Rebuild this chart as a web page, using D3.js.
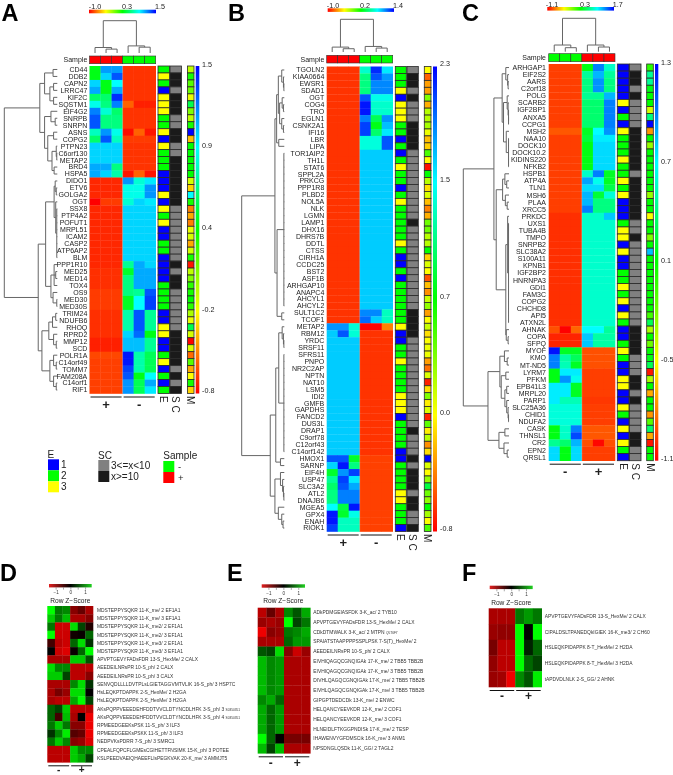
<!DOCTYPE html>
<html>
<head>
<meta charset="utf-8">
<style>
  html, body { margin: 0; padding: 0; background: #fff; }
  svg { display: block; font-family: "Liberation Sans", Arial, sans-serif; filter: blur(0.35px); }
</style>
<script src="https://cdn.jsdelivr.net/npm/d3@7"></script>
</head>
<body>
<svg id="fig" width="673" height="775"></svg>
<script>
/* global d3 */
var rainbow = ["#ff0000", "#ffff00", "#00ff00", "#00ffff", "#0000ff"];

// ---- panel A
var genesA = ["CD44","DDB2","CAPN2","LRRC47","KIF2C","SQSTM1","EIF4G2","SNRPB","SNRPN","ASNS","COPG2","PTPN23","C6orf130","METAP2","BRD4","HSPA5","DIDO1","ETV6","GOLGA2","OGT","SSX8","PTP4A2","POFUT1","MRPL51","ICAM2","CASP2","ATP6AP2","BLM","PPP1R10","MED25","MED14","TOX4","OS9","MED30","MED30S","TRIM24","NDUFB6","RHOQ","RPRD2","MMP12","SCD","POLR1A","C14orf49","TOMM7","FAM208A","C14orf1","RIF1"];
var sampleA = ["+","+","+","-","-","-"];
var groupsA = ["+","-"];
var scaleTicksA = [-1.0, 0.3, 1.5];
var mTicksA = [1.5, 0.9, 0.4, -0.2, -0.8];
var rowA = [-.9,-.9,-.9,1,1,1];
var valuesA = [
  [.35,1.13,1.13,-.87,-.87,-.87],[.35,1,1.3,-.87,-.87,-.87],[1,.35,.9,-.87,-.87,-.87],[1.1,.35,1.1,-.87,-.87,-.87],
  [.55,.55,1.4,-.87,-.87,-.87],[.85,.6,1.2,-.75,-.92,-.92],[1.2,.8,.55,-.87,-.87,-.87],[1.3,.6,.6,-.87,-.87,-.87],
  [1.3,.6,.6,-.87,-.87,-.87],[.75,1.15,.85,-.97,-.75,-.95],[.55,1.3,.75,-.85,-.85,-.85],[1,1,1,-.87,-.87,-.87],
  [1,1,1,-.87,-.87,-.87],[1,1,1,-.87,-.87,-.87],[1.1,1.1,.6,-.87,-.87,-.87],[1.1,1,.7,-.95,-.75,-.95],
  [-.9,-.9,-.9,1.15,.8,.95],[-.9,-.9,-.9,.85,.85,1.15],[-.9,-.9,-.9,.85,.85,1.15],[-1,-.85,-.85,.8,1,.95],
  rowA,rowA,rowA,rowA,rowA,rowA,rowA,rowA,
  [-.9,-.9,-.9,.65,1.1,1],[-.88,-.88,-.88,.4,1.1,1.1],[-.88,-.88,-.88,.6,1.1,1.1],[-.88,-.88,-.88,.6,1.1,1.1],
  [-.85,-.85,-.85,.6,.65,1.3],[-.85,-.85,-.85,.38,.9,1.35],[-.85,-.85,-.85,.38,.9,1.35],[-.88,-.88,-.88,.7,1.3,.65],
  [-.88,-.88,-.88,.7,1.3,.65],[-.88,-.88,-.88,.7,1.3,.65],[-.88,-.88,-.88,1,1.25,.35],[-.92,-.92,-.92,1.05,1.05,.65],
  [-.92,-.92,-.92,1.05,1.05,.65],[-.82,-.82,-.82,1.45,.7,.5],[-.84,-.84,-.84,1.45,.7,.5],[-.84,-.84,-.84,1.35,.7,.5],
  [-.84,-.84,-.84,1.3,.35,.9],[-.84,-.84,-.84,1.15,.5,1.1],[-.84,-.84,-.84,1.15,.5,.95]
];
var evidenceA = [2,3,2,1,3,3,3,2,2,3,1,3,2,2,2,1,1,1,3,1,3,2,3,1,1,2,2,1,1,1,1,2,2,2,2,1,1,3,3,1,1,2,3,1,2,1,2];
var spectralA = [1,2,2,1,2,2,2,1,1,2,2,1,1,2,2,2,2,2,2,2,1,1,1,1,1,1,1,1,2,1,2,2,1,1,1,1,1,1,2,2,2,2,2,1,2,1,2];
var modA = [-.05,.35,.2,.15,-.15,.55,.1,-.05,.35,1.5,-.35,.4,.4,.4,.4,.4,-.1,-.3,.9,.35,-.5,-.4,-.5,-.15,-.1,-.4,-.1,.35,-.75,-.05,.1,.3,.35,.4,.3,0,-.15,.55,-.1,-.8,-.1,-.55,.2,-.4,-.2,.35,-.3];
var colTreeA = [100,[17,0,[12,1,2]],[22,3,[18,4,5]]];
var rowTreeA = [100,
  [33,[24,[8,0,1],[14,[7,2,3],[7,4,5]]],[24,[12,6,[4,7,8]],[18,[7,9,10],[10,[2,11,[1,12,13]],[6,14,15]]]]],
  [36,[22,[6,[4,16,[2,17,18]],[3,19,[1,20,21,22,23,24,25,26,27]]],[12,[6,28,[3,29,30],31],[8,32,[1,33,34]]]],
      [29,[16,[9,[3,35,36],37],[7,38,[2,39,40]]],[14,[7,41,[2,42,43]],[7,44,[2,45,46]]]]]
];

// ---- panel B
var genesB = ["TGOLN2","KIAA0664","EWSR1","SDAD1","OGT","COG4","TRO","EGLN1","CSNK2A1","IFI16","LBR","LIPA","TOR1AIP2","TH1L","STAT6","SPPL2A","PRKCG","PPP1R8","PLBD2","NOL5A","NLK","LGMN","LAMP1","DHX16","DHRS7B","DDTL","CTSS","CIRH1A","CCDC25","BST2","ASF1B","ARHGAP10","ANAPC4","AHCYL1","AHCYL2","SULT1C2","TCOF1","METAP2","RBM12","YRDC","SRSF11","SFRS11","PNPO","NR2C2AP","NPTN","NAT10","LSM5","IDI2","GMFB","GAPDHS","FANCD2","DUS3L","DRAP1","C9orf78","C12orf43","C14orf142","HMOX1","SARNP","EIF4H","USP47","SLC3A2","ATL2","DNAJB6","MGEA5","GPX4","ENAH","RIOK1"];
var sampleB = ["+","+","+","-","-","-"];
var groupsB = ["+","-"];
var scaleTicksB = [-1.0, 0.2, 1.4];
var mTicksB = [2.3, 1.5, 0.7, 0.0, -0.8];
var upB = [-.88,-.88,-.88,.92,.92,.92];
var downB = [.92,.92,.92,-.88,-.88,-.88];
var valuesB = [
  [-.88,-.88,-.88,.68,1.3,.85],[-.88,-.88,-.88,.5,1.2,1.04],[-.88,-.88,-.88,.5,1.08,1.08],[-.88,-.88,-.88,.5,1.08,1.08],
  [-.88,-.88,-.88,1.2,.75,.75],[-.88,-.88,-.88,1.35,.68,.68],[-.88,-.88,-.88,1.35,.68,.68],[-.88,-.88,-.88,1.1,.4,1.05],
  [-.88,-.88,-.88,1.25,.25,.95],[-.88,-.88,-.88,1.25,.45,.85],[-.88,-.88,-.88,.72,.72,1.2],[-.88,-.88,-.88,.72,.72,1.2],
  upB,upB,upB,upB,upB,upB,upB,upB,upB,upB,upB,upB,upB,upB,upB,upB,upB,upB,upB,upB,upB,upB,upB,
  [-.88,-.88,-.88,1.08,1.08,.65],[-.88,-.88,-.88,1.15,.92,.65],
  [1.05,1.05,.7,-1,-1,-.7],[.92,1.2,.7,-.88,-.88,-.88],
  downB,downB,downB,downB,downB,downB,downB,downB,downB,downB,downB,downB,downB,downB,downB,downB,downB,
  [1.2,1.2,.3,-.85,-.85,-.85],[.9,1.35,.5,-.85,-.85,-.85],[.3,1.05,1.25,-.85,-.85,-.85],[.55,1.25,.85,-.85,-.85,-.85],
  [.45,1.2,1,-.85,-.85,-.85],[.5,1.1,1.1,-.85,-.85,-.85],[.5,1.1,1.1,-.85,-.85,-.85],[.8,.35,1.35,-.85,-.85,-.85],
  [1.35,.3,.75,-.85,-.85,-.85],[1.35,.65,.65,-.85,-.85,-.85],[1.25,.65,.65,-.85,-.85,-.85]
];
var evidenceB = [2,2,2,3,1,3,3,3,2,2,1,2,1,2,3,2,2,1,2,3,2,2,2,2,2,3,2,1,1,2,1,2,2,2,2,2,2,3,1,1,2,2,3,2,2,2,2,3,3,3,1,2,2,2,2,1,1,2,2,2,2,3,3,2,2,2,1];
var spectralB = [1,2,2,1,2,1,1,1,2,2,2,2,1,1,1,1,1,1,1,1,1,1,2,1,1,1,1,1,1,1,1,1,1,1,1,2,2,2,2,1,1,1,1,1,1,1,1,1,1,1,1,1,2,1,1,1,2,1,2,2,2,1,2,2,1,1,2];
var modB = [0,-.5,-.3,-.3,.35,-.25,.2,.2,.25,.05,-.2,-.15,.5,0,-.75,.7,.2,-.1,.1,-.2,-.4,-.25,.4,.4,.2,.2,.7,-.15,.1,0,-.55,-.2,-.35,.15,.3,-.3,0,.15,-.1,0,.05,.05,-.3,-.45,.1,-.7,-.1,.35,-.05,.1,-.7,.45,-.05,.2,-.35,-.1,2.3,.1,0,.3,.9,.4,.3,.7,.25,0,.5];
var colTreeB = [100,[15,0,[10,1,2]],[17,3,[12,4,5]]];
var rowTreeB = [100,
  [22,[18,[14,[6,0,[2,1,[1,2,3]]],[11,[5,4,[2,5,6]],[6,7,[2,8,9]]]],[13,10,11]],
      [17,[1,12,13,14,15,16,17,18,19,20,21,22,23,24,25,26,27,28,29,30,31,32,33,34],[6,35,36]]],
  [33,[20,[13,[5,37,[2,38,[1,39,40]]],[1,41,42,43,44,45,46,47,48,49,50,51,52,53,54,55]],[9,56,57]],
      [22,[9,58,[4,59,[2,60,[1,61,62]]]],[14,63,[6,64,[3,65,66]]]]]
];

// ---- panel C
var genesC = ["ARHGAP1","EIF2S2","AARS","C2orf18","POLG","SCARB2","IGF2BP1","ANXA5","CCPG1","MSH2","NAA10","DOCK10","DOCK10.2","KIDINS220","NFKB2","HSPB1","ATP4A","TLN1","MSH6","PLAA","XRCC5","PRKDC","UXS1","TUBA4B","TMPO","SNRPB2","SLC38A2","S100A11","KPNB1","IGF2BP2","HNRNPA3","GDI1","FAM3C","COPG2","CHCHD8","API5","ATXN2L","AHNAK","COPA","SFPQ","MYOF","KMO","MT-ND5","LYRM7","PFKM","EPB41L3","MRPL20","PARP1","SLC25A36","CHID1","NDUFA2","CASK","THNSL1","CR2","EPN2","QRSL1"];
var sampleC = ["-","-","-","+","+","+"];
var groupsC = ["-","+"];
var scaleTicksC = [-1.1, 0.3, 1.7];
var mTicksC = [1.3, 0.7, 0.1, -0.5, -1.1];
var upC = [-.97,-.97,-.97,.86,.86,.86];
var downC = [.9,.9,.9,-.93,-.93,-.93];
var valuesC = [
  [-.93,-.93,-.93,.35,1.35,.85],[-.93,-.93,-.93,.72,1.2,.72],[-.93,-.93,-.93,.65,1.3,.65],[-.93,-.93,-.93,.65,1.3,.65],
  [-.93,-.93,-.93,.7,.7,1.2],[-.93,-.93,-.93,.6,.6,1.35],[-.93,-.93,-.93,.6,.6,1.35],[-.93,-.93,-.93,.6,.6,1.35],
  [-.93,-.93,-.93,.6,.6,1.35],[-.86,-.86,-.86,.4,1,1.3],[-.93,-.93,-.93,.45,1.05,1.05],[-.93,-.93,-.93,.35,1.1,1.1],
  [-.93,-.93,-.93,.35,1.1,1.1],[-.93,-.93,-.93,.35,1.1,1.1],[-.93,-.93,-.93,.35,1.1,1.1],[-.93,-.93,-.93,.85,1.35,.4],
  [-.93,-.93,-.93,1.25,.95,.4],[-.93,-.93,-.93,1.1,1.1,.5],[-.93,-.93,-.93,1.2,.45,.9],[-.93,-.93,-.93,1.2,.65,.65],
  [-.93,-.93,-.93,1.35,.65,.65],[-.97,-.97,-.97,.85,.85,1.15],
  upC,upC,upC,upC,upC,upC,upC,upC,upC,upC,upC,upC,upC,upC,upC,
  [-.88,-1.1,-.82,1,1,.72],[-1,-1,-1,1.15,.75,.75],[-1,-1,-1,1.15,.75,.75],
  [1.65,.4,.4,-.88,-.88,-.88],[1.35,.75,.55,-.88,-.88,-.88],[1.35,.8,.4,-.88,-.88,-.88],[.35,1.05,1.05,-.93,-.93,-.93],
  [.35,1.3,.95,-.93,-.93,-.93],[1.05,1.05,.4,-.93,-.93,-.93],[1.05,1.05,.4,-.93,-.93,-.93],[1.05,.8,.8,-.95,-.95,-.95],
  downC,downC,downC,[.35,.85,1.35,-.86,-.86,-.86],[.35,.85,1.5,-.86,-.86,-.86],[.7,.6,1.2,-.88,-1.08,-.88],
  [1.1,.35,1.1,-.93,-.93,-.93],[1.1,.35,1.1,-.93,-.93,-.93]
];
var evidenceC = [1,1,1,1,1,3,1,2,1,3,2,2,2,3,2,2,3,2,3,1,1,1,2,3,3,1,3,1,1,2,2,3,2,3,1,3,2,1,1,2,3,2,1,1,3,3,1,1,3,2,1,3,1,3,2,1];
var spectralC = [1,2,2,1,2,1,1,1,1,2,2,2,2,2,2,1,2,2,2,2,2,2,1,1,2,1,1,1,1,1,1,1,1,1,1,1,1,2,2,2,2,1,1,1,2,2,1,2,1,1,1,1,2,2,1,1];
var modC = [0,.45,.45,.15,.1,.1,-.4,.4,1.3,-.75,.1,-.25,.1,.1,.1,.1,.1,.1,-.25,.1,.1,-.5,.1,.1,-.2,.1,.85,.1,.1,.1,.1,.1,.1,.1,.1,-.05,.3,-.3,.1,-.15,.1,.15,.3,-1.05,-.3,.1,-.7,.1,.1,-.75,-.1,.35,-.7,-1.05,.1,.1];
var colTreeC = [100,[20,0,[12,1,2]],[20,3,[14,4,5]]];
var rowTreeC = [100,
  [33,[24,[15,[7,0,[3,1,[2,2,3]]],[12,[4,4,[2,5,[1,6,[1,7,8]]]],[6,9,[1,10,11,12,13,14]]]]],
      [28,[14,[9,15,[5,16,17]],[8,18,[4,19,20]]],[7,[3,21,[1,22,23,24,25,26,27,28,29,30,31,32,33,34,35,36]],[6,37,[2,38,39]]]]],
  [46,[20,[10,40,[4,41,42]],[17,[7,43,44],[9,[5,45,46],[5,47,[2,48,[1,49,50]]]]]],[22,[9,51,52],[11,53,[4,54,55]]]]
];

// ---- legends
var evidenceLevels = [1, 2, 3];
var evidenceColors = ["#0000ff", "#00ff00", "#ffff00"];
var spectralLevels = ["3<=x<10", "x>=10"];
var spectralColors = ["#808080", "#1a1a1a"];
var sampleLevels = ["-", "+"];
var sampleColors = ["#00ff00", "#ff0000"];

// ---- panel D
var peptidesD = ["MDSTEPPYSQKR 11-K_me/ 2 EF1A1","MDSTEPPYSQKR 11-K_me/ 3 EF1A1","MDSTEPPYSQKR 11-K_me2/ 2 EF1A1","MDSTEPPYSQKR 11-K_me2/ 3 EF1A1","MDSTEPPYSQKR 11-K_me3/ 2 EF1A1","MDSTEPPYSQKR 11-K_me3/ 3 EF1A1","APVPTGEVYFADsFDR 13-S_HexMe/ 2 CALX","AEEDEILNRsPR 10-S_ph/ 2 CALX","AEEDEILNRsPR 10-S_ph/ 3 CALX","SENVQDLLLLDVTPLsLGIETAGGVMTVLIK 16-S_ph/ 3 HSP7C","HsLEQKPTDAPPK 2-S_HexMe/ 2 H2GA","HsLEQKPTDAPPK 2-S_HexMe/ 3 H2GA","AKsPQPPVEEEDEHFDDTVVCLDTYNCDLHFK 3-S_ph/ 3|S0350351","AKsPQPPVEEEDEHFDDTVVCLDTYNCDLHFK 3-S_ph/ 4|S0350351","RPMEEDGEEKsPSK 11-S_ph/ 3 ILF3","RPMEEDGEEKsPSKK 11-S_ph/ 3 ILF3","NEDPVKsPDRR 7-S_ph/ 3 SMRC1","CPEALFQPCFLGMEsCGIHETTFNSIMK 15-K_ph/ 3 POTEE","KSLPEEDVAEIQHAEEFLIsPEGKVAK 20-K_me/ 3 AMMJT5"];
var zD = [
  [1.5,.7,.8,-.8,-.6,-1],[1.2,.7,1.1,-1,-1,-.8],[.7,-1.2,-1.2,1.3,.4,-.2],[1.6,-1.2,-1.2,-.1,-.05,.6],[-.4,-1.1,-1.2,.6,1.3,.3],
  [0,-1.2,-1.3,-.05,.6,1.6],[-1,-1,-1,1.2,1.2,.5],[1.3,.8,.8,-1.1,-1.1,-1.1],[1.2,1.2,.4,-1.1,-1.1,-.8],[-1,-1,-1,.8,1.3,.3],
  [-1,-.7,-.9,1.3,1.3,0],[-1,-1.1,-1.1,1,1.5,.4],[.6,.4,1.2,-1.1,-1.1,-1.1],[.6,-.4,1.1,-1,0,-1.4],[.7,1.2,.7,-.8,-.8,-1.4],
  [.3,.8,1.4,-.5,-.6,-1.4],[.7,1.2,.8,-.8,-.9,-1.3],[-1.1,-1.1,-1.1,1.2,.8,.8],[-1.1,-1.1,-1.1,1.2,1,.4]
];

// ---- panel E
var peptidesE = ["ADkPDMGEIASFDK 3-K_ac/ 2 TYB10","APVPTGEVYFADsFDR 13-S_HexMe/ 2 CALX","CDkDTMWALK 3-K_ac/ 2 MTPN|Q5T6F7","SPAIATSTAAPPPPSSPLPSK 7-S(T)_HexMe/ 2","AEEDEILNRsPR 10-S_ph/ 2 CALX","EIVHIQAGQCGNQIGAk 17-K_me/ 2 TBB5 TBB2B","EIVHIQAGQCGNQIGAk 17-K_me/ 3 TBB5 TBB2B","DIVHLQAGQCGNQIGAk 17-K_me/ 2 TBB5 TBB2B","EIVHLQAGQCGNQIGAk 17-K_me/ 3 TBB5 TBB2B","GIPGPTDEDCDk 13-K_me/ 2 ENWC","HELQANCYEEVKDR 12-K_me/ 2 COF1","HELQANCYEEVKDR 12-K_me/ 3 COF1","HLNEIDLFTKGGPNDISk 17-K_me/ 2 TESP","IHAWENVYGFDMSCik 16-K_me/ 3 ANM1","NPSDNGLQSDk 11-K_GG/ 2 TAGL2"];
var zE = [
  [-1.1,-.6,-1,.8,.5,1],[-.9,-1,-.9,1.6,.4,.7],[-1.4,-.8,-.9,.7,.8,1],[-1,-1,-1,.6,.9,.9],[.5,.4,1.3,-.8,-1.2,-.9],
  [1.1,.8,.9,-1,-1,-1],[1.1,.8,.9,-1,-1,-1],[1.1,.8,.9,-1,-1,-1],[1.1,.8,.9,-1,-1,-1],[.8,1,.6,-1,-1,-1],
  [1,.6,.9,-1,-1,-1],[1,.6,.9,-1,-1,-1],[1,.6,.9,-1,-1,-1],[1.7,.6,0,-.7,-.7,-.7],[1.1,.4,1.1,-1,-1,-1]
];

// ---- panel F
var peptidesF = ["APVPTGEVYFADsFDR 13-S_HexMe/ 2 CALX","CIPALDSLTPANEDQkIGIEK 16-K_me3/ 2 CH60","HSLEQKPIDAPPK 8-T_HexMe/ 2 H2DA","HSLEQKPIDAPPK 8-T_HexMe/ 3 H2DA","tAPDVDLNLK 2-S_GG/ 2 AHNK"];
var zF = [
  [-1,-1,-1,.7,.9,.7],[-.9,-.85,-.85,1.5,0,1.5],[-.7,-1.1,-1.1,1.6,.2,.6],[-.85,-1.1,-1.1,1.6,.6,.4],[-.9,-.95,-1.4,.8,.5,1.4]
];
var zTicks = [-1, -0.5, 0, 0.5, 1];

var svg = d3.select("#fig");
var defs = svg.append("defs");

function gradient(id, colors, vertical) {
  var g = defs.append("linearGradient").attr("id", id)
    .attr("x1", 0).attr("y1", vertical ? 1 : 0)
    .attr("x2", vertical ? 0 : 1).attr("y2", 0);
  colors.forEach(function (c, i) {
    g.append("stop").attr("offset", i / (colors.length - 1)).attr("stop-color", c);
  });
  return "url(#" + id + ")";
}

function letter(t, x, y) {
  svg.append("text").attr("x", x).attr("y", y)
    .style("font-family", "'Liberation Sans', Arial, sans-serif")
    .style("font-weight", "bold").style("font-size", "23.5px")
    .attr("fill", "#000").text(t);
}

function groupBars(g, groups, cols, y, ty, size) {
  var spans = [[0, 2], [3, 5]];
  groups.forEach(function (label, i) {
    var a = cols(spans[i][0]), b = cols(spans[i][1]) + cols.bandwidth();
    g.append("line").attr("x1", a + 1).attr("x2", b - 1).attr("y1", y).attr("y2", y)
      .attr("stroke", "#111").attr("stroke-width", 1);
    g.append("text").attr("x", (a + b) / 2).attr("y", ty).attr("text-anchor", "middle")
      .attr("dy", "0.35em").style("font-size", size).style("font-weight", "bold")
      .attr("fill", "#222").text(label);
  });
}

// dendrogram from nested [height, child, child...], a number is a leaf row/column
function drawTree(g, tree, leafPos, level, horizontal) {
  var p = d3.path();
  function seg(a1, l1, a2, l2) {
    if (horizontal) { p.moveTo(l1, a1); p.lineTo(l2, a2); }
    else { p.moveTo(a1, l1); p.lineTo(a2, l2); }
  }
  function walk(node) {
    if (typeof node === "number") return {pos: leafPos(node), lev: level(0)};
    var h = level(node[0]);
    var kids = node.slice(1).map(walk);
    kids.forEach(function (k) { seg(k.pos, k.lev, k.pos, h); });
    var a = kids[0].pos, b = kids[kids.length - 1].pos;
    seg(a, h, b, h);
    return {pos: (a + b) / 2, lev: h};
  }
  walk(tree);
  g.append("path").attr("d", p.toString()).attr("fill", "none")
    .attr("stroke", "#666").attr("stroke-width", 1);
}

function columnCells(g, rows, x, w, fill) {
  g.append("g").selectAll("rect").data(rows.domain()).join("rect")
    .attr("x", x).attr("width", w)
    .attr("y", function (d) { return rows(d); })
    .attr("height", rows.bandwidth())
    .attr("fill", fill)
    .attr("stroke", "#2a2a2a").attr("stroke-width", 0.8);
}

function vertText(g, t, x, y) {
  g.append("text").attr("transform", "translate(" + x + "," + y + ") rotate(90)")
    .attr("dy", "0.35em").style("font-size", "10px").attr("fill", "#222").text(t);
}

function rainbowPanel(o) {
  var g = svg.append("g");
  var rows = d3.scaleBand().domain(d3.range(o.genes.length)).range([o.top, o.bottom]);
  var cols = d3.scaleBand().domain(d3.range(6)).range([o.left, o.right]);
  var dom = o.ticks.concat();
  var color = d3.scaleLinear()
    .domain([dom[0], (dom[0] + dom[1]) / 2, dom[1], (dom[1] + dom[2]) / 2, dom[2]])
    .range(rainbow);
  var mColor = d3.scaleLinear().domain(o.mTicks.concat().reverse()).range(rainbow);

  // colour key on top
  g.append("rect").attr("x", o.keyX[0]).attr("width", o.keyX[1] - o.keyX[0])
    .attr("y", o.keyY).attr("height", 3.6)
    .attr("fill", gradient("key" + o.id, rainbow, false));
  o.ticks.forEach(function (t, i) {
    g.append("text").attr("x", o.keyLabelX[i]).attr("y", o.keyLabelY).attr("text-anchor", "middle")
      .attr("dy", "0.35em").style("font-size", "7.2px").attr("fill", "#222").text(t.toFixed(1));
  });

  drawTree(g, o.colTree, function (c) { return cols(c) + cols.bandwidth() / 2; },
    d3.scaleLinear().domain([0, 100]).range(o.colLevels), false);
  drawTree(g, o.rowTree, function (r) { return rows(r) + rows.bandwidth() / 2; },
    d3.scaleLinear().domain([0, 100]).range(o.rowLevels), true);

  // sample bar
  g.append("text").attr("x", o.labelX).attr("y", (o.sampleY[0] + o.sampleY[1]) / 2).attr("text-anchor", "end")
    .attr("dy", "0.35em").style("font-size", "7px").attr("fill", "#222").text("Sample");
  g.append("g").selectAll("rect").data(o.sample).join("rect")
    .attr("x", function (d, i) { return cols(i); }).attr("width", cols.bandwidth())
    .attr("y", o.sampleY[0]).attr("height", o.sampleY[1] - o.sampleY[0])
    .attr("fill", function (d) { return d === "+" ? sampleColors[1] : sampleColors[0]; })
    .attr("stroke", "#333").attr("stroke-width", 0.6);

  // heatmap
  o.values.forEach(function (row, r) {
    g.append("g").selectAll("rect").data(row).join("rect")
      .attr("x", function (d, c) { return cols(c); }).attr("width", cols.bandwidth() + 0.3)
      .attr("y", rows(r)).attr("height", rows.bandwidth() + 0.3)
      .attr("fill", function (d) { return color(d); });
  });
  g.append("line").attr("x1", cols(3)).attr("x2", cols(3)).attr("y1", o.top).attr("y2", o.bottom)
    .attr("stroke", "#fff").attr("stroke-opacity", 0.35).attr("stroke-width", 0.6);

  g.append("g").selectAll("text").data(o.genes).join("text")
    .attr("x", o.labelX)
    .attr("y", function (d, i) { return rows(i) + rows.bandwidth() / 2; })
    .attr("text-anchor", "end").attr("dy", "0.35em")
    .style("font-size", "7px").attr("fill", "#222")
    .text(function (d) { return d; });

  columnCells(g, rows, o.eX[0], o.eX[1] - o.eX[0], function (r) {
    return evidenceColors[evidenceLevels.indexOf(o.evidence[r])];
  });
  columnCells(g, rows, o.scX[0], o.scX[1] - o.scX[0], function (r) {
    return spectralColors[o.spectral[r] - 1];
  });
  columnCells(g, rows, o.mX[0], o.mX[1] - o.mX[0], function (r) {
    return mColor(o.mod[r]);
  });

  // vertical key
  g.append("rect").attr("x", o.barX[0]).attr("width", o.barX[1] - o.barX[0])
    .attr("y", o.top).attr("height", o.bottom - o.top)
    .attr("fill", gradient("bar" + o.id, rainbow, true));
  var barScale = d3.scaleOrdinal().domain(o.mTicks).range(o.barLabelY);
  o.mTicks.forEach(function (t) {
    g.append("text").attr("x", o.barLabelX).attr("y", barScale(t))
      .attr("dy", "0.35em").style("font-size", "7.2px").attr("fill", "#222").text(t.toFixed(1));
  });

  groupBars(g, o.groups, cols, o.bottom + 3.5, o.bottom + 11, "13px");
  var ty = o.bottom + 2.5;
  vertText(g, "E", (o.eX[0] + o.eX[1]) / 2, ty);
  vertText(g, "S C", (o.scX[0] + o.scX[1]) / 2, ty);
  vertText(g, "M", (o.mX[0] + o.mX[1]) / 2, ty);
}

function zPanel(o) {
  var g = svg.append("g");
  var rows = d3.scaleBand().domain(d3.range(o.labels.length)).range([o.top, o.bottom]);
  var cols = d3.scaleBand().domain(d3.range(6)).range([o.left, o.right]);
  var color = d3.scaleLinear().domain([-1.5, 0, 1.5]).range(["#ff0000", "#000000", "#00ff00"]).clamp(true);

  var keyW = o.keyX[1] - o.keyX[0];
  var keyScale = d3.scaleLinear().domain([-1.45, 1.45]).range(o.keyX);
  g.append("rect").attr("x", o.keyX[0]).attr("width", keyW).attr("y", o.keyY).attr("height", 3.4)
    .attr("fill", gradient("z" + o.id, ["#e02020", "#000000", "#20d020"], false));
  var axis = d3.axisBottom(keyScale).tickValues(zTicks).tickSize(2.2).tickPadding(1.5)
    .tickFormat(function (d) { return d === Math.round(d) ? (d < 0 ? "\u2212" + (-d) : d) : ""; });
  var ax = g.append("g").attr("transform", "translate(0," + (o.keyY + 3.4) + ")").call(axis);
  ax.select(".domain").remove();
  ax.selectAll("line").attr("stroke", "#555").attr("stroke-width", 0.5);
  ax.selectAll("text").style("font-size", "4.6px").attr("fill", "#333")
    .style("font-family", "'Liberation Sans', Arial, sans-serif");
  g.append("text").attr("x", (o.keyX[0] + o.keyX[1]) / 2).attr("y", o.keyY + 16.5).attr("text-anchor", "middle")
    .attr("dy", "0.35em").style("font-size", "6.6px").attr("fill", "#222").text("Row Z\u2212Score");

  o.values.forEach(function (row, r) {
    g.append("g").selectAll("rect").data(row).join("rect")
      .attr("x", function (d, c) { return cols(c); }).attr("width", cols.bandwidth() + 0.3)
      .attr("y", rows(r)).attr("height", rows.bandwidth() + 0.3)
      .attr("fill", function (d) { return color(d); });
  });

  var labels = g.append("g").selectAll("text").data(o.labels).join("text")
    .attr("x", o.labelX)
    .attr("y", function (d, i) { return rows(i) + rows.bandwidth() / 2; })
    .attr("dy", "0.35em").style("font-size", "4.9px").attr("fill", "#333");
  labels.append("tspan").text(function (d) { return d.split("|")[0] + " "; });
  labels.append("tspan").style("font-size", "3.2px").text(function (d) { return d.split("|")[1] || ""; });

  groupBars(g, ["-", "+"], cols, o.bottom + 3.5, o.markY, o.markSize);
}

function legends() {
  var g = svg.append("g");
  function block(title, tx, ty, x, y, colors, labels, lx, fs) {
    g.append("text").attr("x", tx).attr("y", ty).attr("dy", "0.35em")
      .style("font-size", "10px").attr("fill", "#222").text(title);
    var s = d3.scaleBand().domain(d3.range(colors.length)).range([y, y + colors.length * 11]);
    g.append("g").selectAll("rect").data(colors).join("rect")
      .attr("x", x).attr("width", 11)
      .attr("y", function (d, i) { return s(i); }).attr("height", 11)
      .attr("fill", function (d) { return d; });
    g.append("g").selectAll("text").data(labels).join("text")
      .attr("x", lx).attr("y", function (d, i) { return s(i) + 5.5; })
      .attr("dy", "0.35em").style("font-size", fs).attr("fill", "#222")
      .text(function (d) { return d; });
  }
  block("E", 47.5, 454, 48, 459.3, evidenceColors, evidenceLevels, 61, "10px");
  block("SC", 98, 455, 98.3, 460, spectralColors, spectralLevels, 111, "10px");
  block("Sample", 163.3, 455.5, 163.3, 461, sampleColors, sampleLevels, 178, "9.5px");
}

letter("A", 1.5, 21);
letter("B", 228, 21);
letter("C", 462, 21);
letter("D", 0, 581);
letter("E", 227, 581);
letter("F", 462, 581);

rainbowPanel({id: "A", genes: genesA, values: valuesA, sample: sampleA, groups: groupsA, ticks: scaleTicksA,
  mTicks: mTicksA, evidence: evidenceA, spectral: spectralA, mod: modA, colTree: colTreeA, rowTree: rowTreeA,
  left: 89.5, right: 155.7, top: 66, bottom: 393.5, labelX: 87.3, sampleY: [56, 63.7],
  keyX: [89, 156], keyY: 9.7, keyLabelX: [95, 127, 160], keyLabelY: 6.3,
  colLevels: [53, 20.7], rowLevels: [57.3, 4.3],
  eX: [158, 169.5], scX: [170, 181.5], mX: [187.5, 194], barX: [195.7, 199.3],
  barLabelX: 202, barLabelY: [64.5, 145.7, 227.7, 309.7, 390.7]});

rainbowPanel({id: "B", genes: genesB, values: valuesB, sample: sampleB, groups: groupsB, ticks: scaleTicksB,
  mTicks: mTicksB, evidence: evidenceB, spectral: spectralB, mod: modB, colTree: colTreeB, rowTree: rowTreeB,
  left: 326.7, right: 392.7, top: 66.5, bottom: 531.5, labelX: 324.3, sampleY: [55.3, 63],
  keyX: [327.7, 394], keyY: 8.3, keyLabelX: [333, 365, 398], keyLabelY: 5.7,
  colLevels: [52, 19.3], rowLevels: [284.3, 241.7],
  eX: [395.3, 406.3], scX: [407, 418.3], mX: [424.3, 431], barX: [433, 437],
  barLabelX: 440, barLabelY: [63.3, 179.3, 296.7, 412.7, 528.3]});

rainbowPanel({id: "C", genes: genesC, values: valuesC, sample: sampleC, groups: groupsC, ticks: scaleTicksC,
  mTicks: mTicksC, evidence: evidenceC, spectral: spectralC, mod: modC, colTree: colTreeC, rowTree: rowTreeC,
  left: 548.7, right: 615, top: 64, bottom: 460.7, labelX: 546, sampleY: [53.7, 61.7],
  keyX: [547.3, 614], keyY: 7, keyLabelX: [552, 585, 617.7], keyLabelY: 4.2,
  colLevels: [51.7, 18.3], rowLevels: [509, 463.3],
  eX: [617.3, 629], scX: [629.5, 641], mX: [646.7, 653.3], barX: [655, 658.3],
  barLabelX: 661, barLabelY: [62.3, 161.3, 260, 359.3, 458.7]});

legends();

zPanel({id: "D", labels: peptidesD, values: zD, left: 47.3, right: 93, top: 606, bottom: 762.3,
  labelX: 97, keyX: [49, 91.7], keyY: 584, markY: 769.3, markSize: "10px"});
zPanel({id: "E", labels: peptidesE, values: zE, left: 257.7, right: 310.3, top: 607.7, bottom: 753.3,
  labelX: 313.3, keyX: [261.7, 305], keyY: 584.3, markY: 762.7, markSize: "12px"});
zPanel({id: "F", labels: peptidesF, values: zF, left: 488.7, right: 541.7, top: 608.3, bottom: 687,
  labelX: 544.7, keyX: [489.7, 532.7], keyY: 585.7, markY: 696, markSize: "12px"});
</script>
</body>
</html>
